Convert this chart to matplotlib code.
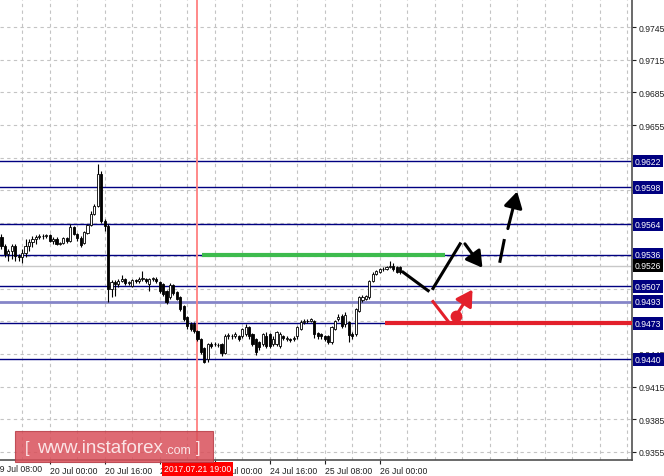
import matplotlib
matplotlib.use("Agg")
import matplotlib.pyplot as plt
import matplotlib.transforms as mtransforms
from matplotlib.patches import Rectangle, FancyArrowPatch

plt.rcParams['font.family'] = ['Liberation Sans', 'DejaVu Sans']

# ---------------- data ----------------
opens = [0.9552, 0.9544, 0.9537, 0.9539, 0.9544, 0.9535, 0.9534, 0.9538, 0.9544, 0.9548,
         0.9550, 0.9552, 0.9553, 0.9553, 0.9554, 0.9549, 0.9550, 0.9546, 0.9547, 0.9551,
         0.9549, 0.9561, 0.9555, 0.9551, 0.9547, 0.9556, 0.9563, 0.9573, 0.9581, 0.9610,
         0.9567, 0.9562, 0.9505, 0.9511, 0.9509, 0.9512, 0.9514, 0.9510, 0.9507, 0.9513,
         0.9512, 0.9514, 0.9514, 0.9509, 0.9514, 0.9514, 0.9511, 0.9509, 0.9503, 0.9497,
         0.9508, 0.9502, 0.9497, 0.9489, 0.9479, 0.9472, 0.9472, 0.9466, 0.9459, 0.9450,
         0.9440, 0.9454, 0.9454, 0.9453, 0.9454, 0.9446, 0.9461, 0.9461, 0.9461, 0.9461,
         0.9461, 0.9463, 0.9470, 0.9463, 0.9459, 0.9456, 0.9454, 0.9461, 0.9463, 0.9454,
         0.9454, 0.9452, 0.9461, 0.9459, 0.9459, 0.9459, 0.9461, 0.9468, 0.9474, 0.9475,
         0.9475, 0.9475, 0.9464, 0.9463, 0.9461, 0.9461, 0.9456, 0.9468, 0.9477, 0.9480,
         0.9472, 0.9474, 0.9463, 0.9463, 0.9484, 0.9494, 0.9495, 0.9497, 0.9512, 0.9518,
         0.9520, 0.9523, 0.9523, 0.9525, 0.9526, 0.9525, 0.9525]
highs = [0.9555, 0.9546, 0.9541, 0.9546, 0.9546, 0.9537, 0.9541, 0.9550, 0.9550, 0.9553,
         0.9554, 0.9555, 0.9555, 0.9555, 0.9555, 0.9552, 0.9552, 0.9548, 0.9552, 0.9552,
         0.9564, 0.9562, 0.9556, 0.9553, 0.9558, 0.9564, 0.9576, 0.9583, 0.9619, 0.9613,
         0.9569, 0.9564, 0.9513, 0.9513, 0.9514, 0.9517, 0.9515, 0.9512, 0.9514, 0.9514,
         0.9516, 0.9521, 0.9515, 0.9515, 0.9516, 0.9516, 0.9512, 0.9510, 0.9504, 0.9510,
         0.9509, 0.9503, 0.9498, 0.9490, 0.9480, 0.9474, 0.9474, 0.9467, 0.9460, 0.9451,
         0.9455, 0.9456, 0.9456, 0.9455, 0.9455, 0.9463, 0.9464, 0.9463, 0.9465, 0.9462,
         0.9469, 0.9472, 0.9471, 0.9464, 0.9460, 0.9457, 0.9464, 0.9465, 0.9464, 0.9461,
         0.9466, 0.9465, 0.9462, 0.9461, 0.9460, 0.9461, 0.9471, 0.9476, 0.9477, 0.9477,
         0.9478, 0.9476, 0.9465, 0.9464, 0.9462, 0.9462, 0.9471, 0.9476, 0.9482, 0.9482,
         0.9483, 0.9475, 0.9465, 0.9487, 0.9498, 0.9499, 0.9499, 0.9513, 0.9520, 0.9522,
         0.9524, 0.9525, 0.9526, 0.9530, 0.9528, 0.9526, 0.9526]
lows = [0.9541, 0.9534, 0.9530, 0.9532, 0.9530, 0.9530, 0.9528, 0.9534, 0.9539, 0.9543,
        0.9546, 0.9550, 0.9550, 0.9551, 0.9548, 0.9546, 0.9545, 0.9545, 0.9546, 0.9547,
        0.9548, 0.9554, 0.9549, 0.9543, 0.9546, 0.9555, 0.9562, 0.9572, 0.9580, 0.9565,
        0.9558, 0.9493, 0.9497, 0.9498, 0.9506, 0.9511, 0.9508, 0.9508, 0.9506, 0.9510,
        0.9510, 0.9512, 0.9510, 0.9503, 0.9512, 0.9510, 0.9501, 0.9498, 0.9491, 0.9495,
        0.9499, 0.9494, 0.9484, 0.9475, 0.9468, 0.9466, 0.9464, 0.9457, 0.9445, 0.9437,
        0.9438, 0.9450, 0.9452, 0.9451, 0.9443, 0.9445, 0.9459, 0.9459, 0.9460, 0.9457,
        0.9460, 0.9461, 0.9459, 0.9452, 0.9444, 0.9449, 0.9452, 0.9450, 0.9450, 0.9452,
        0.9452, 0.9450, 0.9458, 0.9457, 0.9456, 0.9457, 0.9459, 0.9467, 0.9472, 0.9473,
        0.9474, 0.9460, 0.9459, 0.9459, 0.9457, 0.9454, 0.9454, 0.9467, 0.9475, 0.9469,
        0.9470, 0.9456, 0.9459, 0.9461, 0.9483, 0.9493, 0.9494, 0.9495, 0.9511, 0.9517,
        0.9519, 0.9521, 0.9522, 0.9524, 0.9521, 0.9519, 0.9518]
closes = [0.9544, 0.9537, 0.9539, 0.9544, 0.9535, 0.9534, 0.9538, 0.9544, 0.9548, 0.9550,
          0.9552, 0.9553, 0.9553, 0.9554, 0.9549, 0.9550, 0.9546, 0.9547, 0.9551, 0.9549,
          0.9561, 0.9555, 0.9551, 0.9545, 0.9557, 0.9563, 0.9573, 0.9581, 0.9610, 0.9567,
          0.9562, 0.9505, 0.9511, 0.9509, 0.9512, 0.9514, 0.9510, 0.9511, 0.9513, 0.9512,
          0.9514, 0.9514, 0.9512, 0.9514, 0.9514, 0.9512, 0.9503, 0.9500, 0.9493, 0.9508,
          0.9501, 0.9495, 0.9486, 0.9477, 0.9471, 0.9468, 0.9466, 0.9459, 0.9447, 0.9438,
          0.9454, 0.9452, 0.9454, 0.9453, 0.9446, 0.9461, 0.9462, 0.9461, 0.9463, 0.9459,
          0.9468, 0.9470, 0.9461, 0.9454, 0.9447, 0.9451, 0.9463, 0.9452, 0.9452, 0.9459,
          0.9465, 0.9463, 0.9460, 0.9459, 0.9458, 0.9460, 0.9470, 0.9474, 0.9475, 0.9475,
          0.9477, 0.9463, 0.9461, 0.9461, 0.9459, 0.9456, 0.9470, 0.9475, 0.9479, 0.9471,
          0.9481, 0.9462, 0.9461, 0.9486, 0.9497, 0.9497, 0.9498, 0.9512, 0.9518, 0.9521,
          0.9523, 0.9523, 0.9525, 0.9526, 0.9523, 0.9520, 0.9520]

levels = [0.9622, 0.9598, 0.9564, 0.9536, 0.9507, 0.9493, 0.9473, 0.9440]
level_labels = ["0.9622", "0.9598", "0.9564", "0.9536", "0.9507", "0.9493", "0.9473", "0.9440"]
current_price = 0.9526
price_ticks = [0.9355, 0.9385, 0.9415, 0.9445, 0.9475, 0.9505, 0.9535, 0.9565,
               0.9595, 0.9625, 0.9655, 0.9685, 0.9715, 0.9745]
# tick labels that sit under the level boxes are hidden in the reference
price_tick_labels = ["0.9355", "0.9385", "0.9415", "0.9445", "", "", "", "",
                     "", "", "0.9655", "0.9685", "0.9715", "0.9745"]
time_tick_pos = [14, 30, 46, 62, 78, 94, 110]
time_tick_labels = ["20 Jul 00:00", "20 Jul 16:00", "21 Jul 08:00", "24 Jul 00:00",
                    "24 Jul 16:00", "25 Jul 08:00", "26 Jul 00:00"]
first_label_pos = -2
first_label = "19 Jul 08:00"
marker_pos = 57
marker_label = "2017.07.21 19:00"

# forecast sketch (hour index, price)
green_level = (58.3, 129.0, 0.9536)
red_level = (111.6, 183.4, 0.9473)
black_path1 = ([116.8, 124.1], [0.9520, 0.9503])
black_path2 = ([125.5, 133.4], [0.9505, 0.9546])
black_arrow = ((134.8, 0.9546), (139.9, 0.9524))
dash_seg = ([145.0, 146.2], [0.9530, 0.9549])
dash_arrow = ((147.3, 0.9560), (150.0, 0.9594))
red_seg = ([125.5, 129.9], [0.9493, 0.9475])
red_dot = (132.2, 0.9480)
red_arrow_end = (137.0, 0.9504)

FS = 6.2

# ---------------- figure ----------------
W, H = 664, 477
fig = plt.figure(figsize=(W / 100, H / 100), dpi=100)
fig.patch.set_facecolor('white')
ax = fig.add_axes([0, 16 / H, 632 / W, 461 / H])
ax.set_facecolor('white')
ax.set_xlim(-0.436, 183.4)
ax.set_ylim(0.93476, 0.97707)

grid_kw = dict(color='#c4c4c4', linestyle=(0, (3, 3)), linewidth=0.8, zorder=0)
for gx in range(6, 184, 8):
    ax.axvline(gx, **grid_kw)
for gy in price_ticks:
    ax.axhline(gy, **grid_kw)

# spines
for s in ['left', 'top']:
    ax.spines[s].set_visible(False)
for s in ['right', 'bottom']:
    ax.spines[s].set_color('#505050')
    ax.spines[s].set_linewidth(1.2)

# y axis on right
ax.yaxis.tick_right()
ax.set_yticks(price_ticks)
ax.set_yticklabels(price_tick_labels)
ax.tick_params(axis='y', direction='out', length=3, pad=1.5, labelsize=FS,
               colors='#202020', width=0.8)

ax.set_xticks(time_tick_pos)
ax.set_xticklabels(time_tick_labels)
ax.tick_params(axis='x', direction='out', length=3, pad=1.5, labelsize=FS,
               colors='#202020', width=0.8)
for lbl in ax.get_xticklabels():
    lbl.set_ha('left')
bx = mtransforms.blended_transform_factory(ax.transData, ax.transAxes)
ax.text(first_label_pos, -0.0095, first_label, transform=bx,
        ha='left', va='top', fontsize=FS, color='#202020', clip_on=False)

# levels
for lv in levels:
    if lv == 0.9493:
        ax.axhline(lv, color='#8585c8', linewidth=2.0, zorder=1)
    else:
        ax.axhline(lv, color='#000080', linewidth=1.0, zorder=1)
ax.axhline(current_price, color='#c8c8c8', linewidth=1.0, zorder=1)

# time marker
ax.axvline(marker_pos, color='#ff8080', linewidth=1.3, zorder=1.5)

# candles
n = len(closes)
xs = list(range(n))
ax.vlines(xs, lows, highs, color='black', linewidth=0.8, zorder=2)
for i in xs:
    o, c = opens[i], closes[i]
    bottom = min(o, c)
    hgt = max(abs(c - o), 0.00002)
    face = 'white' if c >= o else 'black'
    ax.bar(i, hgt, bottom=bottom, width=0.62, color=face, edgecolor='black',
           linewidth=0.6, zorder=3)

# forecast sketch
ax.plot([green_level[0], green_level[1]], [green_level[2]] * 2, color='#3dbb4d',
        linewidth=3, solid_capstyle='butt', zorder=4)
ax.plot([red_level[0], red_level[1]], [red_level[2]] * 2, color='#e3202b',
        linewidth=3, solid_capstyle='butt', zorder=4)
ax.plot(*black_path1, color='black', linewidth=2.2, zorder=5)
ax.plot(*black_path2, color='black', linewidth=2.2, zorder=5)
arrow_kw = dict(arrowstyle='-|>,head_length=6,head_width=3.5', linewidth=2.2,
                mutation_scale=1.6, zorder=5, shrinkA=0, shrinkB=0)
ax.add_patch(FancyArrowPatch(black_arrow[0], black_arrow[1], color='black', **arrow_kw))
ax.plot(*dash_seg, color='black', linewidth=2.2, zorder=5)
ax.add_patch(FancyArrowPatch(dash_arrow[0], dash_arrow[1], color='black', **arrow_kw))
ax.plot(*red_seg, color='#e3202b', linewidth=2.2, zorder=5)
ax.add_patch(FancyArrowPatch(red_dot, red_arrow_end, color='#e3202b', **arrow_kw))
ax.plot([red_dot[0]], [red_dot[1]], 'o', color='#e3202b', markersize=7.5, zorder=6)

# price level labels on right
btr = mtransforms.blended_transform_factory(fig.transFigure, ax.transData)
for lv, lab in zip(levels, level_labels):
    ax.text(635 / W, lv, lab, transform=btr, ha='left', va='center', fontsize=FS,
            color='white', clip_on=False, zorder=10,
            bbox=dict(boxstyle='square,pad=0.22', facecolor='#000080', edgecolor='none'))
ax.text(635 / W, current_price, f"{current_price:.4f}", transform=btr, ha='left', va='center',
        fontsize=FS, color='white', clip_on=False, zorder=10,
        bbox=dict(boxstyle='square,pad=0.22', facecolor='black', edgecolor='none'))

# time marker label
ax.text(marker_pos, -0.0095, marker_label, transform=bx,
        ha='center', va='top', fontsize=FS, color='white', clip_on=False, zorder=10,
        bbox=dict(boxstyle='square,pad=0.25', facecolor='#ff0000', edgecolor='none'))

# watermark
fig.patches.append(Rectangle((15 / W, 1 - 463 / H), 198 / W, 31 / H, transform=fig.transFigure,
                             facecolor='#d9505a', edgecolor='#b83c46', linewidth=0.8,
                             alpha=0.85, zorder=20))
fig.text(25 / W, 1 - 449 / H, "[", fontsize=12, color='#fbe4e6', va='center', ha='left', zorder=21)
fig.text(37 / W, 1 - 449 / H, "www.instaforex", fontsize=13.5, color='#fbe4e6', va='center',
         ha='left', zorder=21)
fig.text(165 / W, 1 - 451 / H, ".com", fontsize=9, color='#fbe4e6', va='center', ha='left', zorder=21)
fig.text(196 / W, 1 - 449 / H, "]", fontsize=12, color='#fbe4e6', va='center', ha='left', zorder=21)

fig.savefig('out.png', dpi=100)
